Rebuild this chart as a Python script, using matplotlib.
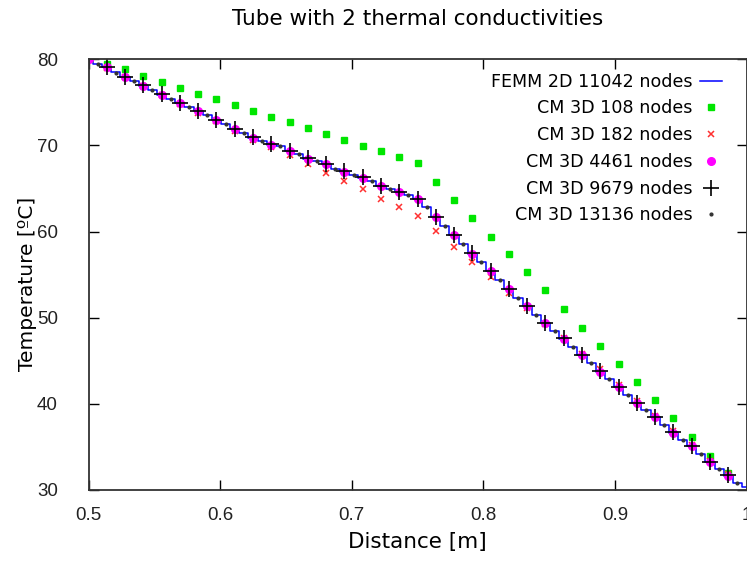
import matplotlib
matplotlib.use("Agg")
import matplotlib.pyplot as plt
import numpy as np

# distance of the CM 3D sample points (0.5 m .. 0.986 m, 36 points)
n_pts = 36
dist = 0.5 + np.arange(n_pts) / 72.0
# the 13136-node cloud sits between those points
dist_mid = 0.5 + (2 * np.arange(n_pts) + 1) / 144.0
# FEMM output, one value every 1/144 m
dist_femm = 0.5 + np.arange(73) / 144.0

femm_2d = [80.0, 79.5, 79.05, 78.5, 77.95, 77.45, 76.95, 76.45, 75.9, 75.4,
           74.9, 74.45, 73.95, 73.5, 72.95, 72.45, 71.9, 71.45, 70.9, 70.5,
           70.1, 69.95, 69.35, 69.0, 68.45, 68.15, 67.85, 67.3, 66.95, 66.6,
           66.25, 65.85, 65.25, 64.95, 64.55, 64.2, 63.75, 62.8, 61.65, 60.6,
           59.55, 58.6, 57.45, 56.45, 55.4, 54.35, 53.3, 52.25, 51.35, 50.35,
           49.4, 48.45, 47.55, 46.6, 45.65, 44.75, 43.75, 42.9, 41.95, 41.0,
           40.05, 39.3, 38.45, 37.55, 36.65, 35.85, 35.05, 34.2, 33.3, 32.45,
           31.65, 30.85, 30.4]
cm_108 = [80.0, 79.45, 78.84, 78.1, 77.37, 76.67, 75.98, 75.36, 74.7, 74.0,
          73.34, 72.73, 72.07, 71.33, 70.64, 69.96, 69.38, 68.67, 68.0, 65.8,
          63.65, 61.56, 59.42, 57.38, 55.29, 53.16, 51.0, 48.85, 46.74, 44.62,
          42.53, 40.4, 38.31, 36.1, 34.0, 31.97]
cm_182 = [80.0, 79.0, 77.9, 76.9, 75.8, 74.8, 73.8, 72.8, 71.7, 70.6,
          69.8, 68.9, 67.8, 66.85, 65.9, 64.9, 63.8, 62.8, 61.85, 60.1,
          58.2, 56.5, 54.7, 52.85, 51.1, 49.3, 47.6, 45.8, 44.0, 42.2,
          40.3, 38.6, 36.8, 35.2, 33.4, 31.8]
cm_4461 = [80.0, 79.05, 77.95, 76.95, 75.9, 74.9, 73.95, 72.95, 71.9, 70.9,
           70.1, 69.35, 68.45, 67.85, 66.95, 66.25, 65.25, 64.55, 63.75, 61.65,
           59.55, 57.45, 55.4, 53.3, 51.35, 49.4, 47.55, 45.65, 43.75, 41.95,
           40.05, 38.45, 36.65, 35.05, 33.3, 31.65]
cm_9679 = [80.0, 79.07, 77.98, 76.98, 75.94, 74.93, 74.0, 72.99, 71.95, 70.95,
           70.14, 69.4, 68.5, 67.9, 67.0, 66.3, 65.3, 64.6, 63.8, 61.7,
           59.6, 57.5, 55.4, 53.3, 51.4, 49.4, 47.6, 45.7, 43.8, 42.0,
           40.1, 38.5, 36.7, 35.1, 33.3, 31.7]
cm_13136 = [79.45, 78.45, 77.5, 76.45, 75.4, 74.45, 73.5, 72.45, 71.45, 70.5,
            69.95, 69.0, 68.15, 67.3, 66.6, 65.85, 64.95, 64.2, 62.8, 60.6,
            58.6, 56.45, 54.35, 52.25, 50.35, 48.45, 46.6, 44.75, 42.9, 41.0,
            39.3, 37.55, 35.85, 34.2, 32.45, 30.8]

labels = ["FEMM 2D 11042 nodes", "CM 3D 108 nodes", "CM 3D 182 nodes",
          "CM 3D 4461 nodes", "CM 3D 9679 nodes", "CM 3D 13136 nodes"]
x_ticks = [0.5, 0.6, 0.7, 0.8, 0.9, 1.0]
x_tick_labels = ["0.5", "0.6", "0.7", "0.8", "0.9", "1"]
y_ticks = [30, 40, 50, 60, 70, 80]

plt.rcParams["font.family"] = ["DejaVu Sans"]
tick_font = ["Liberation Sans Narrow", "Liberation Sans", "DejaVu Sans"]

fig = plt.figure(figsize=(7.47, 5.64), dpi=100)
ax = fig.add_axes([88.5 / 747, 74 / 564, 658 / 747, 430.7 / 564])

ax.plot(dist_femm, femm_2d, color="#0000ff", lw=1.1, drawstyle="steps-mid",
        label=labels[0])
ax.plot(dist, cm_108, ls="none", marker="s", ms=5, color="#00e600",
        mec="#00e600", label=labels[1])
ax.plot(dist, cm_182, ls="none", marker="x", ms=5, mew=1.1, color="#ff3030",
        label=labels[2])
ax.plot(dist, cm_4461, ls="none", marker="o", ms=5.5, color="#ff00ff",
        mec="#ff00ff", label=labels[3])
ax.plot(dist, cm_9679, ls="none", marker="+", ms=11, mew=1.2, color="black",
        label=labels[4])
ax.plot(dist_mid, cm_13136, ls="none", marker="o", ms=2, color="#333333",
        label=labels[5])

ax.set_xlim(0.5, 1.0)
ax.set_ylim(30, 80)
ax.set_xticks(x_ticks)
ax.set_xticklabels(x_tick_labels)
ax.set_yticks(y_ticks)
ax.tick_params(direction="in", length=7, width=1, top=True, right=True,
               labelsize=13.5, colors="black")
ax.tick_params(axis="x", pad=12)
ax.tick_params(axis="y", pad=22)
for t in ax.get_xticklabels() + ax.get_yticklabels():
    t.set_family(tick_font)
    t.set_color("#222222")
for s in ax.spines.values():
    s.set_linewidth(1.3)
    s.set_color("#333333")

ax.set_title("Tube with 2 thermal conductivities", fontsize=15.5, pad=25)
ax.set_xlabel("Distance [m]", fontsize=15.5, labelpad=6)
ax.set_ylabel("Temperature [ºC]", fontsize=14.5)
ax.yaxis.set_label_coords(-0.079, 0.478)

leg = ax.legend(loc="upper right", bbox_to_anchor=(0.963, 0.969),
                markerfirst=False, frameon=False, fontsize=12.6,
                handlelength=1.25, handletextpad=0.45, labelspacing=0.5,
                borderpad=0, borderaxespad=0)

fig.savefig("out.png", dpi=100)
